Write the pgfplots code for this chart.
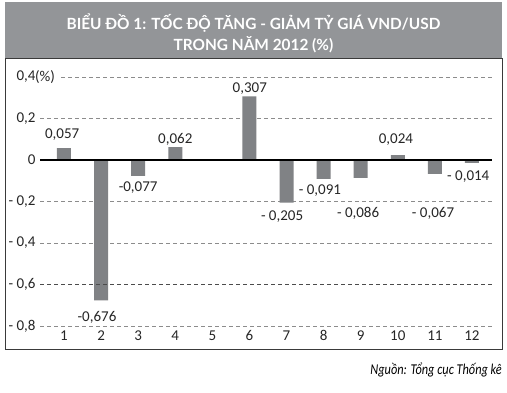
\documentclass[border=0pt]{standalone}
\usepackage{fontspec}
\setmainfont{Carlito}
\newfontfamily\titlefont{Lato}
\usepackage{pgfplots}
\pgfplotsset{compat=1.18}
\definecolor{hdr}{HTML}{939598}
\definecolor{barc}{HTML}{808285}
\definecolor{gridc}{HTML}{8C8C8C}
\definecolor{framec}{HTML}{3A3A3A}
\begin{document}
\begin{tikzpicture}[x=1pt,y=1pt]
\fill[white] (0,0) rectangle (507,393);
\fill[hdr] (5,334) rectangle (502,391);
\draw[framec, line width=1pt] (5,43) rectangle (502,334);
\node[white, font=\titlefont\bfseries\fontsize{15.4}{21}\selectfont, align=center] at (253.5,359.5)
  {BIỂU ĐỒ 1: TỐC ĐỘ TĂNG - GIẢM TỶ GIÁ VND/USD\\TRONG NĂM 2012 (\%)};
\node[anchor=east, inner sep=0pt] at (502,23)
  {\scalebox{0.82}[1]{\itshape\fontsize{15}{15}\selectfont Nguồn: Tổng cục Thống kê}};
\begin{axis}[
  at={(40pt,67pt)}, anchor=south west, scale only axis,
  width=452pt, height=249pt,
  xmin=0.353, xmax=12.54, ymin=-0.8, ymax=0.4,
  axis line style={draw=none},
  major tick length=0pt,
  xtick={1,...,12},
  /pgf/number format/assume math mode=true,
  ytick={-0.8,-0.6,-0.4,-0.2,0,0.2,0.4},
  yticklabels={{- 0,8},{- 0,6},{- 0,4},{- 0,2},0,{0,2},{0,4}},
  ymajorgrids,
  grid style={gridc, line width=0.8pt, dash pattern=on 4pt off 3pt},
  ticklabel style={font=\fontsize{15}{15}\selectfont, text=black!85},
  yticklabel style={anchor=east, xshift=-1pt},
  xticklabel style={anchor=north, yshift=-1pt},
  clip=false,
]
\addplot[ybar, bar width=14pt, fill=barc, draw=none] coordinates {
  (1,0.057) (2,-0.676) (3,-0.077) (4,0.062) (6,0.307) (7,-0.205)
  (8,-0.091) (9,-0.086) (10,0.024) (11,-0.067) (12,-0.014)};
\addplot[black!70, line width=0.9pt, dash pattern=on 4pt off 3pt] coordinates {(0.353,-0.6) (12.54,-0.6)};
\addplot[black, line width=1.6pt] coordinates {(0.353,0) (12.54,0)};
\node[fill=white, inner sep=0pt, anchor=west, minimum height=8pt, text width=24pt,
  font=\fontsize{15}{15}\selectfont, text=black!85] at (axis cs:0.353,0.4) [xshift=-5pt] {(\%)};
\begin{scope}[every node/.style={font=\fontsize{15}{15}\selectfont, text=black!85}]
\node at (axis cs:0.95,0.120) {0,057};
\node at (axis cs:1.89,-0.757) {-0,676};
\node at (axis cs:3.0,-0.135) {-0,077};
\node at (axis cs:4.0,0.101) {0,062};
\node at (axis cs:6.01,0.342) {0,307};
\node at (axis cs:6.88,-0.275) {- 0,205};
\node at (axis cs:7.9,-0.149) {- 0,091};
\node at (axis cs:8.93,-0.255) {- 0,086};
\node at (axis cs:9.95,0.096) {0,024};
\node at (axis cs:10.95,-0.255) {- 0,067};
\node at (axis cs:11.9,-0.082) {- 0,014};
\end{scope}
\end{axis}
\end{tikzpicture}
\end{document}
